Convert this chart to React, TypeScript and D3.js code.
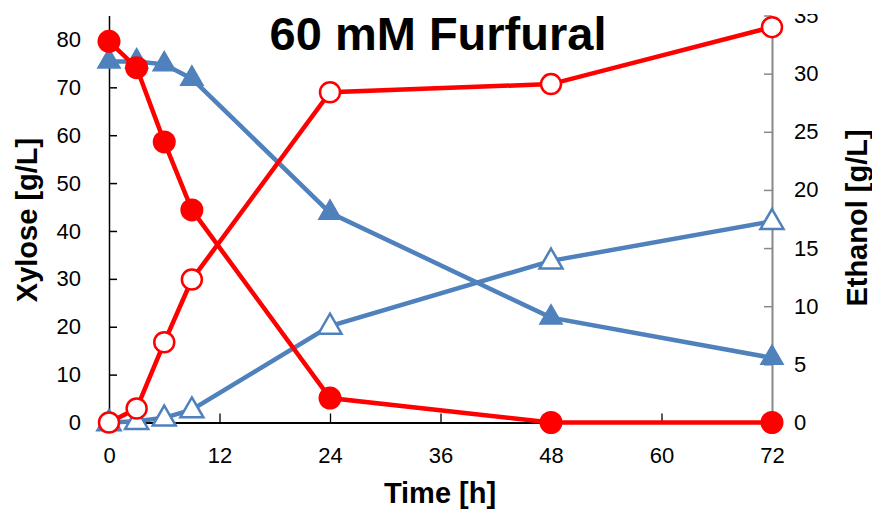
import React, { useRef, useEffect } from "react";
import * as d3 from "d3";

// sampling times (h)
const times = [0, 3, 6, 9, 24, 48, 72];

// red series (circles)
const xyloseRed = [79.6, 74.1, 58.6, 44.4, 5.1, 0, 0];
const ethanolRed = [0, 1.2, 6.9, 12.3, 28.4, 29.1, 34.0];

// blue series (triangles)
const xyloseBlue = [75.4, 75.4, 74.8, 71.8, 43.8, 21.9, 13.5];
const ethanolBlue = [0, 0.1, 0.4, 1.1, 8.3, 13.9, 17.3];

const xTicks = [0, 12, 24, 36, 48, 60, 72];
const leftTicks = [0, 10, 20, 30, 40, 50, 60, 70, 80];
const rightTicks = [0, 5, 10, 15, 20, 25, 30, 35];

const RED = "#FF0000";
const BLUE = "#4F81BD";
const FONT = "'Liberation Sans', Arial, sans-serif";

function FurfuralChart() {
  const svgRef = useRef<SVGSVGElement>(null);

  const renderD3 = () => {
    const svg = d3.select(svgRef.current);
    svg.selectAll("*").remove();

    const x = d3.scaleLinear().domain([0, 72]).range([109, 772]);
    const yL = d3.scaleLinear().domain([0, 85]).range([422.5, 15.5]);
    const yR = d3.scaleLinear().domain([0, 35]).range([422.5, 15.5]);

    // the top of the picture is cut just above the right axis end
    svg
      .append("defs")
      .append("clipPath")
      .attr("id", "topcut")
      .append("rect")
      .attr("x", 0)
      .attr("y", 14)
      .attr("width", 872)
      .attr("height", 500);

    // x axis
    const xAxisG = svg
      .append("g")
      .attr("transform", "translate(0,422.5)")
      .call(d3.axisBottom(x).tickValues(xTicks).tickSize(-9).tickSizeOuter(0).tickPadding(25));
    xAxisG.select(".domain").attr("stroke", "#000").attr("stroke-width", 2);
    xAxisG
      .selectAll(".tick line")
      .attr("stroke", "#000")
      .attr("stroke-width", 1.3)
      .attr("display", (d: any) => (d === 0 || d === 72 ? "none" : null));
    xAxisG.selectAll("text").attr("font-size", 22).attr("font-family", FONT).attr("fill", "#000");

    // left axis
    const yAxisG = svg
      .append("g")
      .attr("transform", "translate(109,0)")
      .call(d3.axisLeft(yL).tickValues(leftTicks).tickSize(-8).tickSizeOuter(0).tickPadding(28));
    yAxisG.select(".domain").attr("stroke", "#000").attr("stroke-width", 1.5);
    yAxisG.selectAll(".tick line").attr("stroke", "#000").attr("stroke-width", 1.5);
    yAxisG.selectAll("text").attr("font-size", 22).attr("font-family", FONT).attr("fill", "#000");

    // right axis
    const clipG = svg.append("g").attr("clip-path", "url(#topcut)");
    const yRAxisG = clipG.append("g").attr("transform", "translate(772,0)");
    yRAxisG.call(d3.axisRight(yR).tickValues(rightTicks).tickSize(-8).tickSizeOuter(0).tickPadding(22));
    yRAxisG.select(".domain").attr("stroke", "#888").attr("stroke-width", 2);
    yRAxisG.selectAll(".tick line").attr("stroke", "#888").attr("stroke-width", 1.5);
    yRAxisG.selectAll("text").attr("font-size", 22).attr("font-family", FONT).attr("fill", "#000");

    const drawSeries = (
      values: number[],
      yScale: d3.ScaleLinear<number, number>,
      color: string,
      shape: "circle" | "triangle",
      filled: boolean
    ) => {
      const pts = times.map((t, i) => [x(t), yScale(values[i])] as [number, number]);
      svg
        .append("path")
        .attr("d", d3.line()(pts))
        .attr("fill", "none")
        .attr("stroke", color)
        .attr("stroke-width", 4.5);
      const g = svg.append("g");
      if (shape === "circle") {
        g.selectAll("circle")
          .data(pts)
          .enter()
          .append("circle")
          .attr("cx", (d) => d[0])
          .attr("cy", (d) => d[1])
          .attr("r", filled ? 11.5 : 10)
          .attr("fill", filled ? color : "#fff")
          .attr("stroke", color)
          .attr("stroke-width", filled ? 0 : 2.5);
      } else {
        const sym = d3.symbol().type(d3.symbolTriangle).size(filled ? 270 : 230);
        g.selectAll("path")
          .data(pts)
          .enter()
          .append("path")
          .attr("d", sym() as string)
          .attr("transform", (d) => `translate(${d[0]},${d[1] + (filled ? 0 : 1)})`)
          .attr("fill", filled ? color : "#fff")
          .attr("stroke", color)
          .attr("stroke-width", filled ? 0 : 2.5);
      }
    };

    drawSeries(xyloseBlue, yL, BLUE, "triangle", true);
    drawSeries(ethanolBlue, yR, BLUE, "triangle", false);
    drawSeries(xyloseRed, yL, RED, "circle", true);
    drawSeries(ethanolRed, yR, RED, "circle", false);

    // titles
    svg
      .append("text")
      .attr("x", 438)
      .attr("y", 50)
      .attr("text-anchor", "middle")
      .attr("font-family", FONT)
      .attr("font-weight", "bold")
      .attr("font-size", 47)
      .text("60 mM Furfural");

    svg
      .append("text")
      .attr("transform", "translate(37,220) rotate(-90)")
      .attr("text-anchor", "middle")
      .attr("font-family", FONT)
      .attr("font-weight", "bold")
      .attr("font-size", 29)
      .text("Xylose [g/L]");

    svg
      .append("text")
      .attr("transform", "translate(867,218) rotate(-90)")
      .attr("text-anchor", "middle")
      .attr("font-family", FONT)
      .attr("font-weight", "bold")
      .attr("font-size", 29)
      .text("Ethanol [g/L]");

    svg
      .append("text")
      .attr("x", 440)
      .attr("y", 503)
      .attr("text-anchor", "middle")
      .attr("font-family", FONT)
      .attr("font-weight", "bold")
      .attr("font-size", 29)
      .text("Time [h]");
  };

  useEffect(() => {
    renderD3();
  });

  return (
    <div style={{ position: "absolute", left: 0, top: 0 }}>
      <svg ref={svgRef} width="872" height="510" style={{ display: "block", background: "#fff" }}></svg>
    </div>
  );
}

export default function App() {
  return <FurfuralChart />;
}
